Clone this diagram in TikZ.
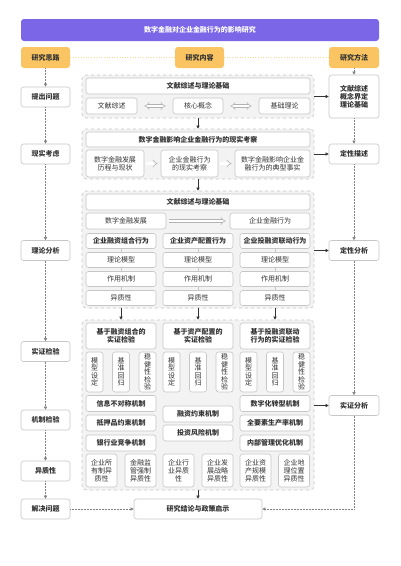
\documentclass[tikz,border=0pt]{standalone}
\usepackage{fontspec}
\setmainfont{Noto Sans CJK SC}
\usetikzlibrary{arrows.meta, positioning, calc}
\definecolor{title-purple}{HTML}{7B66E8}
\definecolor{head-orange}{HTML}{F9C461}
\definecolor{box-gray}{HTML}{C6C6C6}
\definecolor{text-gray}{HTML}{333333}
\definecolor{frame-gray}{HTML}{F3F3F3}
\tikzset{
  box/.style={draw=box-gray, fill=white, rounded corners=2.5pt, line width=0.6pt, inner sep=1pt,
    text=text-gray, font=\fontsize{7}{8}\selectfont, align=center},
  hbox/.style={box, font=\fontsize{7}{8}\selectfont\bfseries},
  vbox/.style={box, font=\fontsize{7}{7.4}\selectfont, minimum width=17, minimum height=40},
  head/.style={fill=head-orange, rounded corners=3pt, text=text-gray, minimum height=21,
    font=\fontsize{7}{8}\selectfont\bfseries},
  frame/.style={draw=box-gray, dashed, fill=frame-gray, rounded corners=4pt, line width=0.6pt},
  arr/.style={-{Triangle[length=3pt,width=3pt]}, line width=0.5pt, draw=text-gray},
  link/.style={arr, densely dotted, draw=gray},
  hollow/.style={draw=gray!60, double=white, double distance=2.2pt, line width=0.5pt}
}

\begin{document}
\begin{tikzpicture}[x=1pt, y=-1pt]
\useasboundingbox (0,0) rectangle (400,566);

% title and column heads
\node[fill=title-purple, rounded corners=3pt, text=white, minimum width=358, minimum height=22,
  font=\fontsize{7}{8}\selectfont\bfseries] (title) at (200,30) {数字金融对企业金融行为的影响研究};
\node[head, minimum width=49] (idea) at (45.5,57.5) {研究思路};
\node[head, minimum width=49] (cont) at (199.5,57.5) {研究内容};
\node[head, minimum width=50] (meth) at (354,57.5) {研究方法};
\draw[dotted, head-orange!70, line width=0.6pt] (idea) -- (cont);
\draw[dotted, head-orange!70, line width=0.6pt] (cont) -- (meth);

% left column
\node[hbox, minimum width=49, minimum height=20] (q1) at (45.5,97) {提出问题};
\node[hbox, minimum width=49, minimum height=20] (q2) at (45.5,154) {现实考虑};
\node[hbox, minimum width=49, minimum height=20] (q3) at (45.5,250.5) {理论分析};
\node[hbox, minimum width=49, minimum height=20] (q4) at (45.5,351.5) {实证检验};
\node[hbox, minimum width=49, minimum height=20] (q5) at (45.5,420) {机制检验};
\node[hbox, minimum width=49, minimum height=20] (q6) at (45.5,471) {异质性};
\node[hbox, minimum width=49, minimum height=20] (q7) at (45.5,509) {解决问题};

% right column
\node[hbox, minimum width=50, minimum height=43] (m1) at (354,96.5) {文献综述\\概念界定\\理论基础};
\node[hbox, minimum width=50, minimum height=20] (m2) at (354,154) {定性描述};
\node[hbox, minimum width=50, minimum height=20] (m3) at (354,250.5) {定性分析};
\node[hbox, minimum width=50, minimum height=20] (m4) at (354,405.5) {实证分析};

% group frames
\node[frame, minimum width=232, minimum height=43] (g1) at (198,96.5) {};
\node[frame, minimum width=232, minimum height=50] (g2) at (198,154) {};
\node[frame, minimum width=232, minimum height=117] (g3) at (198,249.5) {};
\node[frame, minimum width=232, minimum height=170] (g4) at (198,405) {};

% group 1
\node[hbox, minimum width=224, minimum height=16] (lit) at (198,86) {文献综述与理论基础};
\node[box, minimum width=51, minimum height=16] (a1) at (111.5,106) {文献综述};
\node[box, minimum width=50, minimum height=16] (a2) at (198,106) {核心概念};
\node[box, minimum width=51, minimum height=16] (a3) at (284.5,106) {基础理论};
\draw[hollow, {Implies}-{Implies}, shorten <=7pt, shorten >=7pt] (a1) -- (a2);
\draw[hollow, {Implies}-{Implies}, shorten <=7pt, shorten >=7pt] (a2) -- (a3);

% group 2
\node[hbox, minimum width=224, minimum height=15] (real) at (198,139.5) {数字金融影响企业金融行为的现实考察};
\node[box, minimum width=58, minimum height=27] (b1) at (115,163.5) {数字金融发展\\历程与现状};
\node[box, minimum width=57, minimum height=27] (b2) at (189.5,163.5) {企业金融行为\\的现实考察};
\node[box, minimum width=75, minimum height=27] (b3) at (272.5,163.5) {数字金融影响企业金\\融行为的典型事实};
\draw[hollow, -{Implies}, shorten <=2pt, shorten >=3pt] (b1) -- (b2);
\draw[hollow, -{Implies}, shorten <=2pt, shorten >=3pt] (b2) -- (b3);

% group 3
\node[hbox, minimum width=224, minimum height=16] (theo) at (198,202) {文献综述与理论基础};
\node[box, minimum width=80, minimum height=16] (c1) at (126,221) {数字金融发展};
\node[box, minimum width=80, minimum height=16] (c2) at (270,221) {企业金融行为};
\draw[hollow, -{Implies}, shorten <=3pt, shorten >=4pt] (c1) -- (c2);
\foreach \c/\x/\t in {1/121/企业融资组合行为, 2/198/企业资产配置行为, 3/275/企业投融资联动行为} {
  \node[hbox, minimum width=70, minimum height=15] (e\c-1) at (\x,241) {\t};
  \node[box, minimum width=70, minimum height=15] (e\c-2) at (\x,260) {理论模型};
  \node[box, minimum width=70, minimum height=15] (e\c-3) at (\x,279) {作用机制};
  \node[box, minimum width=70, minimum height=15] (e\c-4) at (\x,298) {异质性};
  \draw[box-gray, line width=0.5pt] (e\c-1) -- (e\c-2);
  \draw[box-gray, line width=0.5pt] (e\c-2) -- (e\c-3);
  \draw[box-gray, line width=0.5pt] (e\c-3) -- (e\c-4);
}

% group 4
\node[hbox, minimum width=70, minimum height=26] (f1) at (121,336) {基于融资组合的\\实证检验};
\node[hbox, minimum width=70, minimum height=26] (f2) at (198,336) {基于资产配置的\\实证检验};
\node[hbox, minimum width=70, minimum height=26] (f3) at (275,336) {基于投融资联动\\行为的实证检验};
\foreach \c/\x in {1/121, 2/198, 3/275} {
  \node[vbox] (v\c-1) at (\x-26.5,372) {模\\型\\设\\定};
  \node[vbox] (v\c-2) at (\x,372) {基\\准\\回\\归};
  \node[vbox] (v\c-3) at (\x+26.5,372) {稳\\健\\性\\检\\验};
}
\node[hbox, minimum width=70, minimum height=16] (k1) at (121,403.5) {信息不对称机制};
\node[hbox, minimum width=70, minimum height=16] (k2) at (121,423) {抵押品约束机制};
\node[hbox, minimum width=70, minimum height=16] (k3) at (121,443) {银行业竞争机制};
\node[hbox, minimum width=70, minimum height=16] (k4) at (198,414) {融资约束机制};
\node[hbox, minimum width=70, minimum height=16] (k5) at (198,433) {投资风险机制};
\node[hbox, minimum width=70, minimum height=16] (k6) at (275,403.5) {数字化转型机制};
\node[hbox, minimum width=70, minimum height=16] (k7) at (275,423) {全要素生产率机制};
\node[hbox, minimum width=70, minimum height=16] (k8) at (275,443) {内部管理优化机制};
\node[box, minimum width=31, minimum height=33] (h1) at (101.5,470.5) {企业所\\有制异\\质性};
\node[box, minimum width=31, minimum height=33] (h2) at (140.5,470.5) {金融监\\管强制\\异质性};
\node[box, minimum width=31, minimum height=33] (h3) at (178.5,470.5) {企业行\\业异质\\性};
\node[box, minimum width=31, minimum height=33] (h4) at (217.5,470.5) {企业发\\展战略\\异质性};
\node[box, minimum width=31, minimum height=33] (h5) at (255.5,470.5) {企业资\\产规模\\异质性};
\node[box, minimum width=31, minimum height=33] (h6) at (294,470.5) {企业地\\理位置\\异质性};

% conclusion
\node[hbox, minimum width=128, minimum height=20] (res) at (198,509) {研究结论与政策启示};

% connectors
\draw[link] (idea) -- (q1);
\draw[link] (q1) -- (q2);
\draw[link] (q2) -- (q3);
\draw[link] (q3) -- (q4);
\draw[link] (q4) -- (q5);
\draw[link] (q5) -- (q6);
\draw[link] (q6) -- (q7);
\draw[link] (q7) -- (res);
\draw[link] (meth) -- (m1);
\draw[link] (m1) -- (m2);
\draw[link] (m2) -- (m3);
\draw[link] (m3) -- (m4);
\draw[link] (m4) |- (res);
\draw[arr] (g1) -- (g2);
\draw[arr] (g2) -- (g3);
\draw[arr] (g1.east |- m1) -- (m1);
\draw[arr] (g2.east |- m2) -- (m2);
\draw[arr] (g3.east |- m3) -- (m3);
\draw[arr] (g4.east |- m4) -- (m4);
\draw[arr] (e1-4.south |- g3.south) -- (f1.north |- g4.north);
\draw[arr] (e2-4.south |- g3.south) -- (f2.north |- g4.north);
\draw[arr] (e3-4.south |- g3.south) -- (f3.north |- g4.north);
\draw[arr] (g4) -- (res);
\end{tikzpicture}
\end{document}
